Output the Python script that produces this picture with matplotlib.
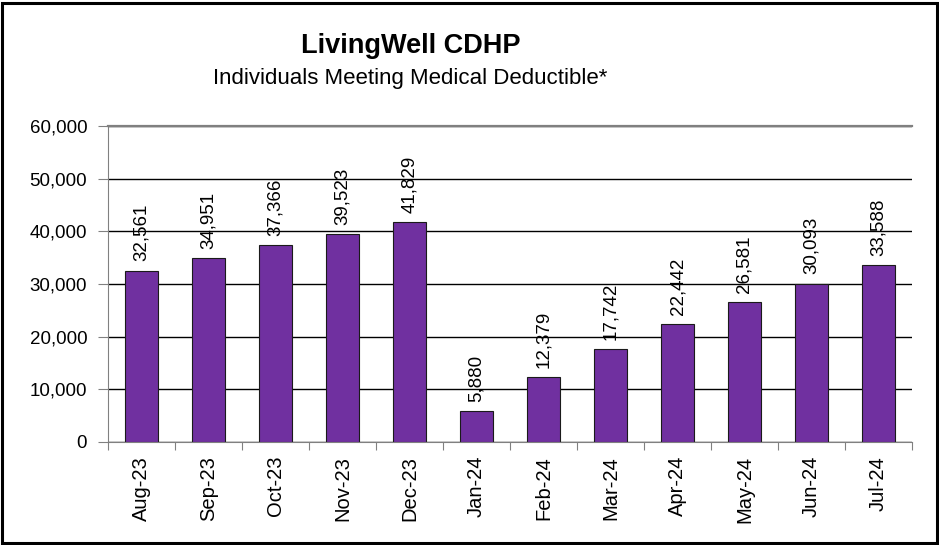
import matplotlib.pyplot as plt
from matplotlib.patches import Rectangle
from matplotlib.ticker import FuncFormatter, MultipleLocator

months = ["Aug-23", "Sep-23", "Oct-23", "Nov-23", "Dec-23", "Jan-24",
          "Feb-24", "Mar-24", "Apr-24", "May-24", "Jun-24", "Jul-24"]
individuals = [32561, 34951, 37366, 39523, 41829, 5880,
               12379, 17742, 22442, 26581, 30093, 33588]

plt.rcParams['font.family'] = ['Liberation Sans', 'DejaVu Sans']

W, H = 939, 545
fig = plt.figure(figsize=(W / 100, H / 100), dpi=100)
ax = fig.add_axes([108 / W, 1 - 442 / H, (912 - 108) / W, (442 - 126) / H])

# Outer border of the chart area
fig.patches.append(Rectangle((2 / W, 2 / H), 935 / W, 540 / H,
                             transform=fig.transFigure, fill=False,
                             edgecolor='black', linewidth=2.2))

x = range(len(months))
ax.bar(x, individuals, width=0.5, color='#7030A0',
       edgecolor='#1a1a1a', linewidth=0.8, zorder=3)

# value labels above the bars
for xi, v in zip(x, individuals):
    ax.annotate(f"{v:,}", (xi, v), xytext=(0, 6.5), textcoords='offset points',
                rotation=90, ha='center', va='bottom', fontsize=13.5)

ax.set_ylim(0, 60000)
ax.set_xlim(-0.5, len(months) - 0.5)
ax.yaxis.set_major_locator(MultipleLocator(10000))
ax.yaxis.set_major_formatter(FuncFormatter(lambda v, p: f"{int(v):,}"))
ax.grid(axis='y', color='black', linewidth=1, zorder=0)

# ticks between categories, labels centred under bars
ax.set_xticks([i - 0.5 for i in range(len(months) + 1)])
ax.set_xticklabels([])
ax.set_xticks(list(x), minor=True)
ax.set_xticklabels(months, minor=True, rotation=90, fontsize=14.5)
ax.tick_params(axis='x', which='minor', length=0, pad=10)
ax.tick_params(axis='x', which='major', length=6, color='#808080')
ax.tick_params(axis='y', length=7, color='#808080', labelsize=13.5, pad=8)

ax.spines['right'].set_visible(False)
for side in ['top', 'left', 'bottom']:
    ax.spines[side].set_color('#808080')
    ax.spines[side].set_zorder(4)
ax.spines['top'].set_linewidth(1.6)

fig.text(411 / W, 1 - 53 / H, "LivingWell CDHP", ha='center', va='baseline',
         fontsize=19.5, fontweight='bold')
fig.text(410 / W, 1 - 84 / H, "Individuals Meeting Medical Deductible*",
         ha='center', va='baseline', fontsize=16)

fig.savefig("out.png", dpi=100)
